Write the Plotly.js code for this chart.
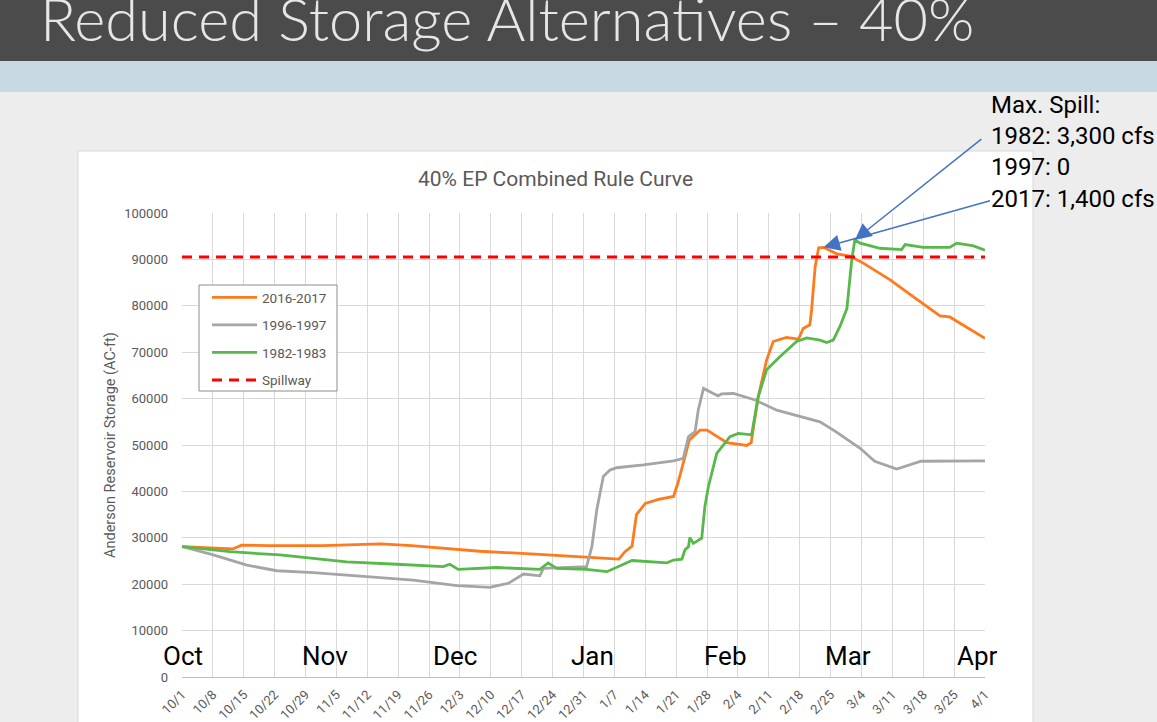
<!DOCTYPE html>
<html>
<head>
<meta charset="utf-8">
<script src="https://cdn.plot.ly/plotly-3.0.1.min.js"></script>
<style>
  html, body { margin: 0; padding: 0; background: #EDEDED; }
  #chart { width: 1157px; height: 722px; }
</style>
</head>
<body>
<div id="chart"></div>
<script>
// ---------------- DATA (days after Oct 1, storage in AC-ft) ----------------
const seriesNames = ['2016-2017', '1996-1997', '1982-1983'];

const days2017 = [0, 10, 11.5, 13.5, 20, 32, 45, 52, 67.5, 80, 89.5, 95, 99, 100.4, 102, 103, 105, 108, 111.4, 112.4, 114, 115, 117.4, 119, 123.5, 128, 129, 130.6, 132.5, 134, 137, 139.7, 140.8, 142.3, 142.7, 143.5, 144.3, 145.4, 148.4, 151.4, 154.4, 160.5, 165.8, 171.8, 174, 182];
const storage2017 = [28100, 27700, 27600, 28400, 28300, 28300, 28700, 28300, 27100, 26500, 25900, 25700, 25400, 27000, 28200, 35000, 37400, 38300, 38900, 41800, 47500, 51100, 53200, 53200, 50500, 49900, 50500, 60400, 68300, 72300, 73200, 72800, 75100, 75900, 79100, 88400, 92500, 92600, 91200, 90700, 89200, 85600, 81900, 77800, 77600, 73000];

const days1997 = [0, 7.1, 14.7, 21.5, 29.8, 44.9, 52.4, 62.3, 69.8, 72, 74, 77.4, 81.1, 81.9, 86.4, 91.7, 92.9, 94, 95.5, 97, 98.5, 104.6, 111.4, 113.6, 114.8, 116.3, 117, 118.2, 120.4, 121.5, 122.3, 125, 129.9, 134.8, 144.6, 148, 153.7, 157, 162, 167.5, 182];
const storage1997 = [28100, 26300, 24100, 22900, 22500, 21500, 20900, 19700, 19300, 19800, 20200, 22200, 21800, 23400, 23600, 23800, 28100, 36000, 43200, 44600, 45100, 45700, 46600, 47100, 51800, 52900, 57500, 62200, 61100, 60600, 61000, 61100, 59700, 57500, 55000, 53000, 49300, 46500, 44800, 46500, 46600];

const days1983 = [0, 10.9, 22.2, 29.8, 37.3, 48.7, 59.2, 60.7, 62.6, 71.3, 81.1, 83, 84.9, 91.7, 96.3, 102, 109.9, 111.4, 113.3, 114, 114.8, 115.1, 115.9, 117.8, 118.5, 119.3, 121.2, 124.2, 126.1, 129.1, 129.5, 130.6, 132.5, 135.5, 139.3, 141.6, 144.6, 146.1, 147.6, 149.1, 150.7, 151.8, 152.5, 153.7, 158.2, 163.1, 163.9, 168, 174, 175.6, 179.4, 182];
const storage1983 = [28100, 27000, 26300, 25600, 24800, 24300, 23800, 24300, 23200, 23600, 23200, 24600, 23400, 23200, 22700, 25100, 24600, 25200, 25400, 27400, 28100, 30100, 28800, 29900, 36700, 41000, 48200, 51800, 52500, 52200, 54300, 60400, 66200, 69000, 72300, 73100, 72600, 72100, 72600, 75500, 79400, 89900, 94200, 93500, 92400, 92100, 93200, 92600, 92600, 93500, 92900, 92000];

const spillwayDays = [0, 182];
const spillwayLevel = 90500;

const monthLabels = ['Oct', 'Nov', 'Dec', 'Jan', 'Feb', 'Mar', 'Apr'];
const monthStartDays = [0, 31, 61, 92, 123, 151, 182];

const spillNote = ['Max. Spill:', '1982: 3,300 cfs', '1997: 0', '2017: 1,400 cfs'];

// ---------------- helpers ----------------
const DAY = 86400000;
const T0 = Date.UTC(2016, 9, 1);
const toX = ds => ds.map(d => T0 + d * DAY);

// page-pixel -> paper coordinates (plot area: x 182..985, y 213..677)
const PL = 182, PR = 985, PT = 213, PB = 677;
const px = x => (x - PL) / (PR - PL);
const py = y => (PB - y) / (PB - PT);

function peak(ds, vs) {
  let i = 0;
  vs.forEach((v, k) => { if (v > vs[i]) i = k; });
  return { x: T0 + ds[i] * DAY, y: vs[i] };
}

const gray = '#595959';
const FONT = 'Roboto, "Open Sans", Arial, sans-serif';

const traces = [
  { x: toX(days2017), y: storage2017, name: seriesNames[0], legendgroup: 'a', mode: 'lines',
    line: { color: '#FF7A1C', width: 2.8 } },
  { x: toX(days1997), y: storage1997, name: seriesNames[1], legendgroup: 'b', mode: 'lines',
    line: { color: '#A5A5A5', width: 2.8 } },
  { x: toX(days1983), y: storage1983, name: seriesNames[2], legendgroup: 'c', mode: 'lines',
    line: { color: '#56B949', width: 2.8 } },
  { x: toX(spillwayDays), y: spillwayDays.map(() => spillwayLevel), name: 'Spillway', legendgroup: 'd',
    mode: 'lines', line: { color: '#FF0000', width: 3, dash: '10px,7px' } }
];

const pk83 = peak(days1983, storage1983);
const pk17 = peak(days2017, storage2017);

const annotations = [
  // slide title
  { xref: 'paper', yref: 'paper', x: px(38), y: py(56), xanchor: 'left', yanchor: 'bottom',
    text: 'Reduced Storage Alternatives – 40%', showarrow: false,
    font: { family: 'Lato, "Open Sans", sans-serif', size: 59.5, color: '#E6E6E6', weight: 300 } },
  // chart title
  { xref: 'paper', yref: 'paper', x: px(555.5), y: py(179), xanchor: 'center', yanchor: 'middle',
    text: '40% EP Combined Rule Curve', showarrow: false,
    font: { family: FONT, size: 21, color: gray } },
  // y axis title
  { xref: 'paper', yref: 'paper', x: px(110), y: 0.5, xanchor: 'center', yanchor: 'middle',
    text: 'Anderson Reservoir Storage (AC-ft)', textangle: -90, showarrow: false,
    font: { family: FONT, size: 14.5, color: gray } },
  // max spill note
  { xref: 'paper', yref: 'paper', x: px(989), y: py(89), xanchor: 'left', yanchor: 'top', align: 'left',
    text: spillNote.join('<br>'), showarrow: false,
    font: { family: FONT, size: 24, color: '#000000' } },
  // arrows
  { xref: 'x', yref: 'y', x: pk83.x, y: pk83.y, text: '', showarrow: true, ax: 128, ay: -102,
    arrowhead: 2, arrowsize: 2.2, arrowwidth: 1.5, arrowcolor: '#4472C4', standoff: 0 },
  { xref: 'x', yref: 'y', x: pk17.x, y: pk17.y, text: '', showarrow: true, ax: 168, ay: -47,
    arrowhead: 2, arrowsize: 2.2, arrowwidth: 1.5, arrowcolor: '#4472C4', standoff: 0 }
];

const monthShift = [1, 6, 4, 5, 1, 0, -8];
monthLabels.forEach((m, i) => {
  annotations.push({ xref: 'x', yref: 'paper', x: T0 + monthStartDays[i] * DAY, y: py(656),
    xanchor: 'center', yanchor: 'middle', xshift: monthShift[i], text: m, showarrow: false,
    font: { family: FONT, size: 26, color: '#000000' } });
});

const shapes = [
  { type: 'rect', xref: 'paper', yref: 'paper', layer: 'below', x0: px(0), x1: px(1157), y0: py(0), y1: py(61),
    fillcolor: '#4B4B4B', line: { width: 0 } },
  { type: 'rect', xref: 'paper', yref: 'paper', layer: 'below', x0: px(0), x1: px(1157), y0: py(61), y1: py(92),
    fillcolor: '#C8D9E3', line: { width: 0 } },
  { type: 'rect', xref: 'paper', yref: 'paper', layer: 'below', x0: px(78), x1: px(1033), y0: py(151), y1: py(730),
    fillcolor: '#FFFFFF', line: { width: 1, color: '#D9D9D9' } },
  // legend frame
  { type: 'rect', xref: 'paper', yref: 'paper', layer: 'above', x0: px(199), x1: px(337), y0: py(285), y1: py(391),
    fillcolor: 'rgba(255,255,255,1)', line: { width: 1, color: '#8C8C8C' } }
];

const layout = {
  width: 1157, height: 722,
  margin: { l: PL, r: 1157 - PR, t: PT, b: 722 - PB, pad: 0 },
  paper_bgcolor: '#EDEDED',
  plot_bgcolor: 'rgba(0,0,0,0)',
  font: { family: FONT, color: gray },
  showlegend: true,
  legend: {
    x: px(207), y: py(282), xanchor: 'left', yanchor: 'top',
    bgcolor: 'rgba(0,0,0,0)', borderwidth: 0,
    font: { family: FONT, size: 13.5, color: gray },
    itemwidth: 45, traceorder: 'grouped', tracegroupgap: 7
  },
  xaxis: {
    type: 'date', range: [T0, T0 + 182 * DAY], tick0: T0, dtick: 7 * DAY,
    tickformat: '%-m/%-d', tickangle: -45, ticks: '', ticklabelstandoff: 4,
    showgrid: true, gridcolor: '#D9D9D9', gridwidth: 1,
    showline: true, linecolor: '#BFBFBF', linewidth: 1, zeroline: false,
    tickfont: { family: FONT, size: 13, color: gray }, fixedrange: true
  },
  yaxis: {
    range: [0, 100000], dtick: 10000, tick0: 0, ticks: '', ticklabelstandoff: 13,
    showgrid: true, gridcolor: '#D9D9D9', gridwidth: 1, zeroline: false, showline: false,
    tickformat: 'd', separatethousands: false,
    tickfont: { family: FONT, size: 13, color: gray }, fixedrange: true
  },
  annotations: annotations,
  shapes: shapes
};

Plotly.newPlot('chart', traces, layout, { displayModeBar: false, staticPlot: true });
</script>
</body>
</html>
